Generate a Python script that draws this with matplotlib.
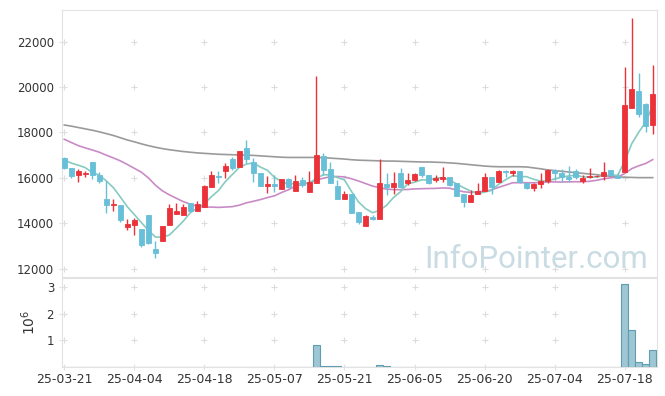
import matplotlib
matplotlib.use("Agg")
import matplotlib.pyplot as plt
import numpy as np
import pandas as pd

# ---------------- data ----------------
tick_labels = ["25-03-21", "25-04-04", "25-04-18", "25-05-07", "25-05-21",
               "25-06-05", "25-06-20", "25-07-04", "25-07-18"]

opens = [16880, 16420, 16140, 16160, 16690, 16110, 15060, 14820, 14800, 13850,
         13940, 13740, 14350, 12870, 13230, 13930, 14420, 14370, 14880, 14560,
         14700, 15610, 16080, 16320, 16830, 16490, 17320, 16690, 16220, 15660,
         15730, 15530, 15950, 15440, 15910, 15390, 15790, 16980, 16390, 15640,
         15090, 15290, 14500, 13890, 14290, 14200, 15730, 15610, 16220, 15760,
         15890, 16480, 16110, 15910, 15960, 16020, 15760, 15290, 14950, 15280,
         15420, 16020, 15800, 16300, 16230, 16300, 15790, 15570, 15720, 15850,
         16350, 16220, 16040, 16300, 15860, 16040, 16080, 16100, 16350, 16100,
         16280, 19090, 19850, 19260, 18310]
highs = [16900, 16420, 16380, 16320, 16690, 16250, 15880, 15060, 14800, 14180,
         14220, 13750, 14350, 13230, 13900, 14870, 14880, 14870, 14900, 14980,
         15690, 16300, 16300, 16640, 16930, 17190, 17670, 16860, 16220, 16070,
         16140, 15940, 15990, 16110, 16030, 16300, 20490, 17080, 16710, 15910,
         15410, 15290, 14500, 14360, 14350, 16830, 16230, 16260, 16450, 16200,
         16230, 16480, 16110, 16130, 16490, 16050, 15760, 15290, 15470, 15780,
         16200, 16050, 16350, 16350, 16350, 16300, 15790, 15760, 16200, 16380,
         16380, 16380, 16520, 16380, 16130, 16420, 16120, 16690, 16350, 16200,
         20900, 23030, 20610, 19320, 20960]
lows = [16400, 15980, 15830, 16050, 15960, 15760, 14470, 14540, 14040, 13700,
        13470, 12940, 13100, 12460, 13230, 13930, 14420, 14370, 14500, 14560,
        14700, 15610, 15760, 15980, 16350, 16490, 16640, 15830, 15660, 15320,
        15380, 15500, 15560, 15440, 15590, 15390, 15760, 16130, 15790, 15090,
        15090, 14470, 13970, 13890, 14150, 14180, 15250, 15290, 15560, 15700,
        15880, 16050, 15730, 15820, 15830, 15630, 15217, 14730, 14950, 15280,
        15420, 15280, 15800, 16050, 16100, 15790, 15500, 15420, 15540, 15790,
        15900, 15830, 15830, 15950, 15790, 15980, 16040, 15900, 16100, 15980,
        16250, 19090, 18670, 18000, 17940]
closes = [16450, 16100, 16300, 16230, 16110, 15860, 14820, 14840, 14150, 13960,
          14150, 13060, 13120, 12680, 13900, 14660, 14540, 14700, 14540, 14870,
          15640, 16110, 16030, 16540, 16450, 17190, 16850, 16230, 15660, 15730,
          15660, 15940, 15590, 15860, 15670, 15800, 17010, 16360, 15790, 15090,
          15290, 14470, 14060, 14320, 14180, 15790, 15600, 15780, 15590, 15910,
          16170, 16110, 15760, 15990, 16020, 15670, 15220, 14940, 15250, 15420,
          16030, 15590, 16300, 16260, 16300, 15830, 15570, 15730, 15850, 16350,
          16230, 16030, 15950, 16030, 16010, 16100, 16090, 16260, 16130, 15990,
          19210, 19920, 18820, 18290, 19710]
volumes = [0] * 36 + [835000, 40000, 40000, 40000, 0, 0, 0, 0, 0, 76000, 40000] \
          + [0] * 33 + [3090000, 1370000, 200000, 130000, 620000]

# moving-average values before enough history exists
ma5_head = [16790, 16650, 16560, 16450]
ma20_head = [17700, 17560, 17420, 17320, 17230, 17130, 17000, 16880, 16750, 16590,
             16420, 16250, 16000, 15680, 15430, 15250, 15100, 14950, 14840]
ma_long = [18330, 18280, 18220, 18160, 18100, 18030, 17950, 17870, 17770, 17670,
           17590, 17500, 17420, 17350, 17290, 17240, 17200, 17160, 17130, 17100,
           17080, 17060, 17040, 17030, 17020, 17010, 17000, 16990, 16970, 16950,
           16930, 16910, 16900, 16900, 16900, 16900, 16900, 16890, 16870, 16850,
           16830, 16800, 16780, 16770, 16760, 16750, 16740, 16740, 16730, 16720,
           16710, 16700, 16700, 16690, 16680, 16660, 16640, 16610, 16580, 16550,
           16520, 16500, 16490, 16490, 16490, 16490, 16480, 16440, 16400, 16350,
           16320, 16290, 16260, 16230, 16200, 16170, 16140, 16100, 16070, 16040,
           16030, 16020, 16010, 16010, 16010]

# ---------------- derived ----------------
n = len(closes)
x = np.arange(n)
cl = pd.Series(closes, dtype=float)
ma5 = cl.rolling(5).mean().to_numpy()
ma5[:len(ma5_head)] = ma5_head
ma20 = cl.rolling(20).mean().to_numpy()
ma20[:len(ma20_head)] = ma20_head

o = np.array(opens, float); c = np.array(closes, float)
h = np.array(highs, float); l = np.array(lows, float)
up = c >= o

RED = "#ec3239"
BLUE = "#68bfd8"
TEAL = "#86cbc0"
PURPLE = "#c98bc6"
GRAY = "#9a9a9a"
SPINE = "#e2e2e2"
TXT = "#333333"

plt.rcParams["font.family"] = ["DejaVu Sans"]

fig = plt.figure(figsize=(6.65, 3.96), dpi=100)
W, H = 665, 396
left, right = 61.7, 656.5
ax = fig.add_axes([left / W, 1 - 277 / H, (right - left) / W, (277 - 10) / H])
axv = fig.add_axes([left / W, 1 - 367 / H, (right - left) / W, (367 - 278) / H], sharex=ax)

# moving averages
ax.plot(x, ma_long, color=GRAY, lw=1.2, zorder=2)
ax.plot(x, ma20, color=PURPLE, lw=1.2, zorder=2)
ax.plot(x, ma5, color=TEAL, lw=1.2, zorder=2)

# candles
cols = np.where(up, RED, BLUE)
ax.vlines(x, l, h, colors=cols, lw=1.0, zorder=3)
bottoms = np.minimum(o, c)
heights = np.abs(c - o)
ax.bar(x, heights, width=0.74, bottom=bottoms, color=cols, edgecolor=cols,
       linewidth=0.6, zorder=4)

ax.set_xlim(-0.37, 84.54)
ax.set_ylim(11630, 23400)
yt = [12000, 14000, 16000, 18000, 20000, 22000]
ax.set_yticks(yt)
ax.set_yticklabels([str(v) for v in yt])
xt = list(range(0, n, 10))
ax.set_xticks(xt)
ax.tick_params(axis="x", labelbottom=False, length=0)
ax.tick_params(axis="y", direction="inout", length=5, color=SPINE,
               labelcolor=TXT, labelsize=8.5, pad=3)
for s in ax.spines.values():
    s.set_color(SPINE)
# grid crosses
gx, gy = np.meshgrid(xt, yt)
ax.scatter(gx.ravel(), gy.ravel(), marker="+", s=18, color="#dcdcdc", lw=0.8, zorder=1)

ax.text(0.986, 0.032, "InfoPointer.com", transform=ax.transAxes, ha="right", va="baseline",
        fontsize=22.5, color="#c9dbe3", family="Roboto", zorder=0)

# volume
axv.bar(x, volumes, width=1.0, color="#9ec6d3", edgecolor="#5f9db0", linewidth=0.8, zorder=3)
axv.set_ylim(0, 3.33e6)
vt = [1e6, 2e6, 3e6]
axv.set_yticks(vt)
axv.set_yticklabels(["1", "2", "3"])
axv.set_xticks(xt)
axv.set_xticklabels(tick_labels)
axv.tick_params(axis="y", direction="inout", length=5, color=SPINE,
                labelcolor=TXT, labelsize=8.5, pad=3)
axv.tick_params(axis="x", direction="inout", length=5, color=SPINE,
                labelcolor=TXT, labelsize=9, pad=2)
for s in axv.spines.values():
    s.set_color(SPINE)
vgx, vgy = np.meshgrid(xt, vt)
axv.scatter(vgx.ravel(), vgy.ravel(), marker="+", s=18, color="#dcdcdc", lw=0.8, zorder=1)
axv.set_ylabel(r"$10^6$", color=TXT, fontsize=10, labelpad=6)

fig.savefig("out.png", dpi=100)
